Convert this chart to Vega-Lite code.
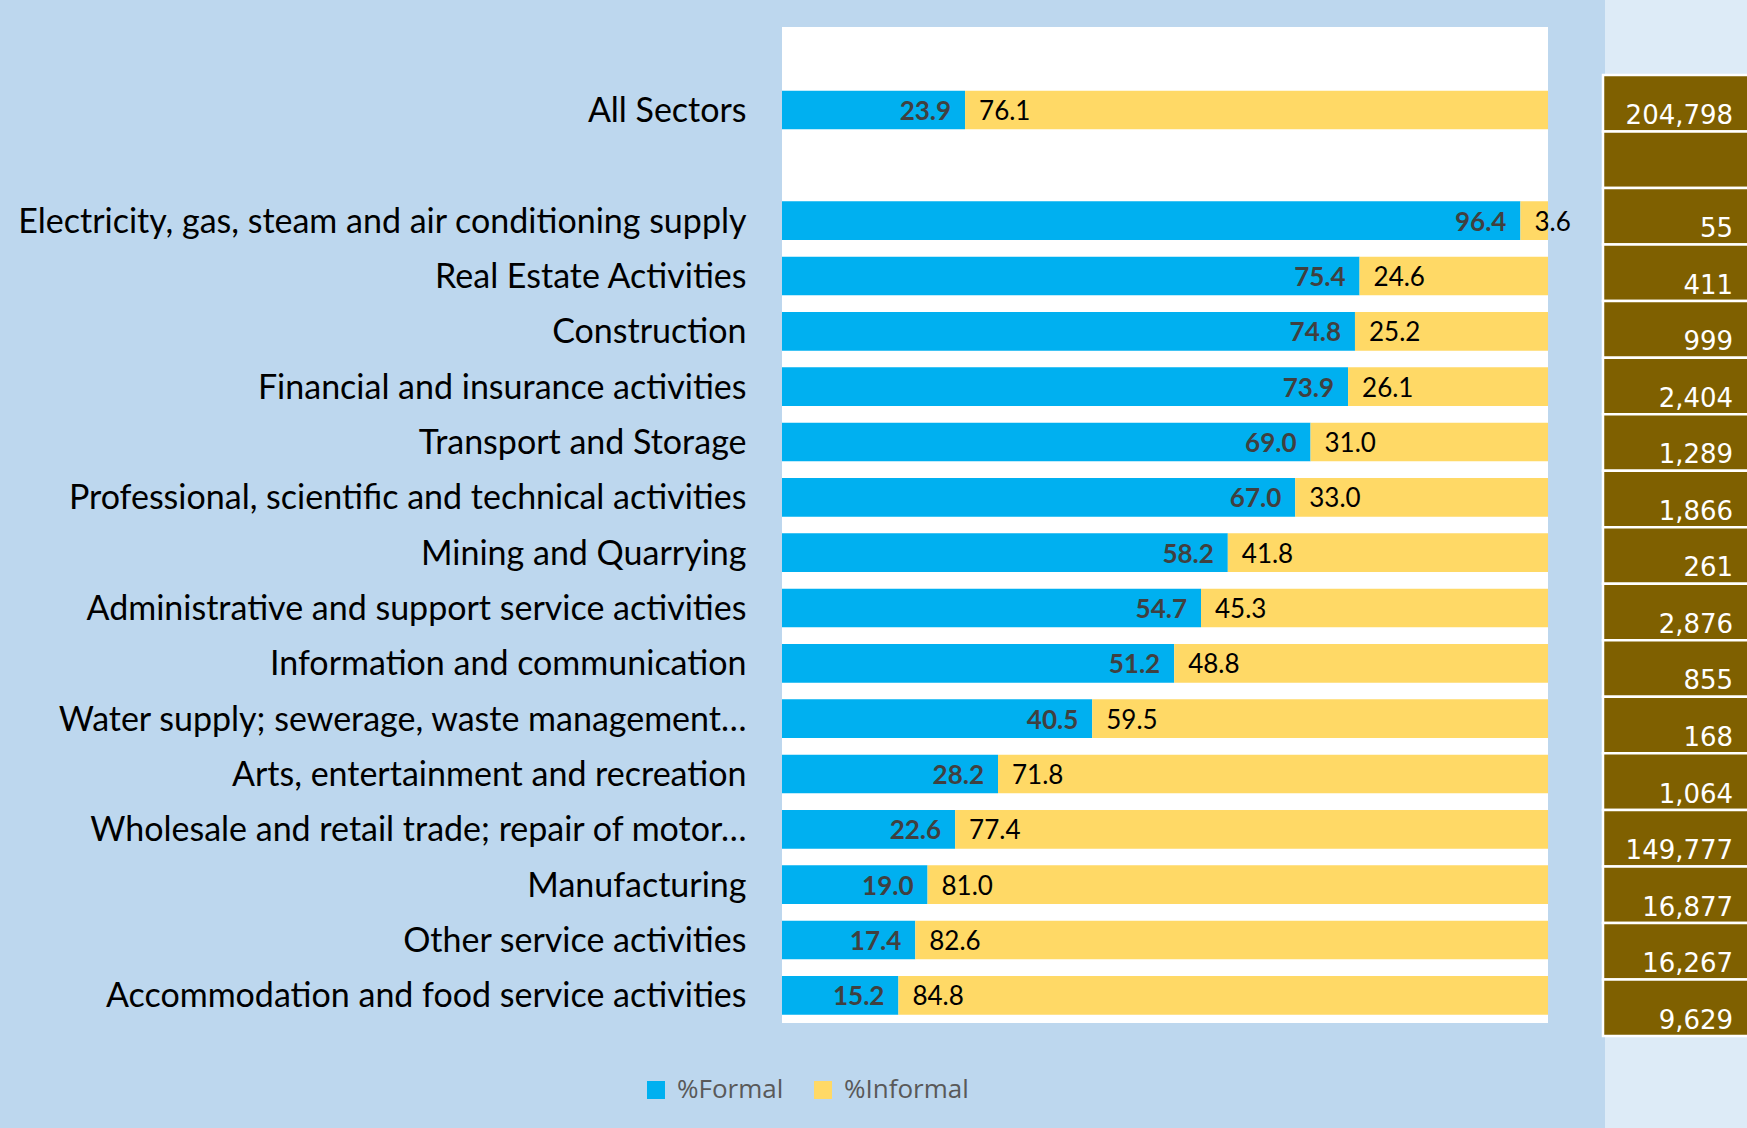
{
  "$schema": "https://vega.github.io/schema/vega-lite/v6.json",
  "width": 766,
  "height": 996,
  "autosize": {"type": "none"},
  "padding": {"left": 782, "top": 27, "right": 199, "bottom": 105},
  "background": "#BDD7EE",
  "config": {"view": {"fill": "white", "stroke": null}},
  "datasets": {
    "rows": [
      {"sector": "All Sectors", "formal": 23.9, "informal": 76.1, "total": 204798},
      {"sector": "Electricity, gas, steam and air conditioning supply", "formal": 96.4, "informal": 3.6, "total": 55},
      {"sector": "Real Estate Activities", "formal": 75.4, "informal": 24.6, "total": 411},
      {"sector": "Construction", "formal": 74.8, "informal": 25.2, "total": 999},
      {"sector": "Financial and insurance activities", "formal": 73.9, "informal": 26.1, "total": 2404},
      {"sector": "Transport and Storage", "formal": 69.0, "informal": 31.0, "total": 1289},
      {"sector": "Professional, scientific and technical activities", "formal": 67.0, "informal": 33.0, "total": 1866},
      {"sector": "Mining and Quarrying", "formal": 58.2, "informal": 41.8, "total": 261},
      {"sector": "Administrative and support service activities", "formal": 54.7, "informal": 45.3, "total": 2876},
      {"sector": "Information and communication", "formal": 51.2, "informal": 48.8, "total": 855},
      {"sector": "Water supply; sewerage, waste management…", "formal": 40.5, "informal": 59.5, "total": 168},
      {"sector": "Arts, entertainment and recreation", "formal": 28.2, "informal": 71.8, "total": 1064},
      {"sector": "Wholesale and retail trade; repair of motor…", "formal": 22.6, "informal": 77.4, "total": 149777},
      {"sector": "Manufacturing", "formal": 19.0, "informal": 81.0, "total": 16877},
      {"sector": "Other service activities", "formal": 17.4, "informal": 82.6, "total": 16267},
      {"sector": "Accommodation and food service activities", "formal": 15.2, "informal": 84.8, "total": 9629}
    ],
    "cells": [
      {"cell": "All Sectors"},
      {"cell": " "},
      {"cell": "Electricity, gas, steam and air conditioning supply"},
      {"cell": "Real Estate Activities"},
      {"cell": "Construction"},
      {"cell": "Financial and insurance activities"},
      {"cell": "Transport and Storage"},
      {"cell": "Professional, scientific and technical activities"},
      {"cell": "Mining and Quarrying"},
      {"cell": "Administrative and support service activities"},
      {"cell": "Information and communication"},
      {"cell": "Water supply; sewerage, waste management…"},
      {"cell": "Arts, entertainment and recreation"},
      {"cell": "Wholesale and retail trade; repair of motor…"},
      {"cell": "Manufacturing"},
      {"cell": "Other service activities"},
      {"cell": "Accommodation and food service activities"}
    ],
    "page": [{"part": "margin"}]
  },
  "layer": [
    {
      "data": {"name": "page"},
      "mark": {"type": "rect", "fill": "#DDEBF7"},
      "encoding": {
        "x": {"datum": 0, "type": "quantitative", "scale": {"domain": [0, 1], "range": [823, 990]}, "axis": null},
        "x2": {"datum": 1},
        "y": {"datum": 0, "type": "quantitative", "scale": {"domain": [0, 1], "range": [-27, 1101]}, "axis": null},
        "y2": {"datum": 1}
      }
    },
    {
      "data": {"name": "rows"},
      "layer": [
        {
          "transform": [{"fold": ["formal", "informal"], "as": ["key", "value"]}],
          "mark": {"type": "bar"},
          "encoding": {
            "y": {
              "field": "sector",
              "type": "nominal",
              "title": null,
              "scale": {
                "domain": ["  ", "All Sectors", " ", "Electricity, gas, steam and air conditioning supply", "Real Estate Activities", "Construction", "Financial and insurance activities", "Transport and Storage", "Professional, scientific and technical activities", "Mining and Quarrying", "Administrative and support service activities", "Information and communication", "Water supply; sewerage, waste management…", "Arts, entertainment and recreation", "Wholesale and retail trade; repair of motor…", "Manufacturing", "Other service activities", "Accommodation and food service activities"],
                "paddingInner": 0.3,
                "paddingOuter": 0.15
              },
              "axis": {
                "domain": false,
                "ticks": false,
                "grid": false,
                "labelPadding": 36,
                "labelOffset": 2,
                "labelFont": "Lato",
                "labelFontSize": 34,
                "labelColor": "#000000",
                "labelLimit": 900
              }
            },
            "x": {
              "field": "value",
              "type": "quantitative",
              "stack": "zero",
              "scale": {"domain": [0, 100], "nice": false},
              "axis": null
            },
            "color": {
              "field": "key",
              "type": "nominal",
              "scale": {"domain": ["formal", "informal"], "range": ["#00B0F0", "#FFD966"]},
              "legend": {
                "title": null,
                "orient": "none",
                "legendX": -139,
                "legendY": 1050,
                "direction": "horizontal",
                "symbolType": "square",
                "symbolSize": 324,
                "symbolStrokeWidth": 0,
                "labelFont": "Open Sans",
                "labelFontSize": 26,
                "labelColor": "#595959",
                "labelOffset": 8,
                "columnPadding": 26,
                "padding": 0,
                "labelExpr": "datum.label == 'formal' ? '%Formal' : '%Informal'"
              }
            }
          }
        },
        {
          "mark": {"type": "text", "align": "right", "baseline": "middle", "dx": -14, "dy": 2, "font": "Lato", "fontWeight": "bold", "fontSize": 26, "color": "#404040"},
          "encoding": {
            "y": {"field": "sector", "type": "nominal"},
            "x": {"field": "formal", "type": "quantitative"},
            "text": {"field": "formal", "type": "quantitative", "format": ".1f"}
          }
        },
        {
          "mark": {"type": "text", "align": "left", "baseline": "middle", "dx": 14, "dy": 2, "font": "Lato", "fontSize": 26, "color": "#000000"},
          "encoding": {
            "y": {"field": "sector", "type": "nominal"},
            "x": {"field": "formal", "type": "quantitative"},
            "text": {"field": "informal", "type": "quantitative", "format": ".1f"}
          }
        }
      ]
    },
    {
      "layer": [
        {
          "data": {"name": "cells"},
          "mark": {"type": "rect", "fill": "#7F6000", "stroke": "#FFFFFF", "strokeWidth": 2.5},
          "encoding": {
            "y": {
              "field": "cell",
              "type": "nominal",
              "scale": {
                "domain": ["All Sectors", " ", "Electricity, gas, steam and air conditioning supply", "Real Estate Activities", "Construction", "Financial and insurance activities", "Transport and Storage", "Professional, scientific and technical activities", "Mining and Quarrying", "Administrative and support service activities", "Information and communication", "Water supply; sewerage, waste management…", "Arts, entertainment and recreation", "Wholesale and retail trade; repair of motor…", "Manufacturing", "Other service activities", "Accommodation and food service activities"],
                "range": [48, 1009],
                "paddingInner": 0,
                "paddingOuter": 0
              },
              "axis": null
            },
            "x": {"datum": 0, "type": "quantitative", "scale": {"domain": [0, 1], "range": [821, 990]}, "axis": null},
            "x2": {"datum": 1}
          }
        },
        {
          "data": {"name": "rows"},
          "mark": {"type": "text", "align": "right", "baseline": "alphabetic", "font": "DejaVu Sans", "fontSize": 26, "fill": "#FFFFFF"},
          "encoding": {
            "y": {"field": "sector", "type": "nominal", "bandPosition": 0.87},
            "x": {"datum": 0.77, "type": "quantitative"},
            "text": {"field": "total", "type": "quantitative", "format": ","}
          }
        }
      ]
    }
  ],
  "resolve": {"scale": {"x": "independent", "y": "independent"}}
}
